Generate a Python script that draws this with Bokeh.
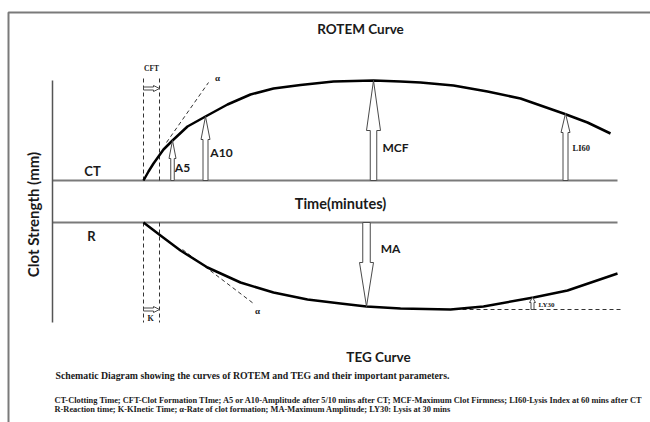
import math
from bokeh.plotting import figure
from bokeh.models import Range1d, Label
from bokeh.embed import file_html
from bokeh.resources import INLINE

# ---------------- data (read from the schematic) ----------------
# ROTEM curve: time (arbitrary units) vs amplitude above its baseline
rotem_time = [91, 96, 101, 106, 111, 120, 135, 153, 175, 198, 221, 248, 281, 321, 348, 368, 401, 435, 468, 511, 535, 558]
rotem_amp = [0, 9, 17, 24, 31, 40, 54, 64, 76, 86, 92, 95.5, 99, 100, 99, 98, 95, 89, 82, 67, 58, 47]
# TEG curve: time vs amplitude below its baseline
teg_time = [91, 108, 128, 155, 188, 221, 255, 288, 314, 348, 398, 431, 481, 515, 565]
teg_amp = [0, 13, 28, 45, 60, 70, 77, 81, 84, 86, 87, 84, 75, 68, 51]

rotem_param_names = ["A5", "A10", "MCF", "LI60"]
rotem_param_time = [120, 153, 321, 513]
rotem_param_amp = [40, 64, 100, 67]

ct_time = 91
cft_end = 107
r_time = 91
k_end = 107
ma_time = 314
ma_amp = 84
ly30_time = 480
ly30_ref = 87
ly30_amp = 75
time_end = 565

caption = "Schematic Diagram showing the curves of ROTEM and TEG and their important parameters."
foot1 = ("CT-Clotting Time; CFT-Clot Formation TIme; A5 or A10-Amplitude after 5/10 mins  after CT; "
         "MCF-Maximum Clot Firmness; LI60-Lysis Index at 60 mins after CT")
foot2 = ("R-Reaction time; K-KInetic Time; \u03b1-Rate of clot formation; "
         "MA-Maximum Amplitude; LY30: Lysis at 30 mins")

# ---------------- layout ----------------
GAP = 42            # distance between the two baselines
AXIS_TOP = 100
AXIS_BOTTOM = -142
SANS = "Lato"
SERIF = "Liberation Serif"


def teg_y(b):
    return -GAP - b


p = figure(width=650, height=422, output_backend="svg", toolbar_location=None,
           x_range=Range1d(-52, 598), y_range=Range1d(-242, 180),
           x_axis_location=None, y_axis_location=None, min_border=0)
p.grid.visible = False
p.outline_line_color = None
p.background_fill_color = "white"
p.border_fill_color = "white"

# outer frame (top and left edges)
p.line([-44, -44, 600], [-245, 168, 168], line_color="#7a7a7a", line_width=2)

# time axes (baselines) and vertical axis
p.segment(x0=[0, 0], y0=[0, -GAP], x1=[time_end, time_end], y1=[0, -GAP],
          line_color="#7a7a7a", line_width=2)
p.segment(x0=[0], y0=[AXIS_TOP], x1=[0], y1=[AXIS_BOTTOM], line_color="#555555", line_width=1.5)

# dashed guides: CFT and K
dash_kw = dict(line_color="#333333", line_width=1, line_dash="4 3")
p.segment(x0=[ct_time, cft_end], y0=[0, 0], x1=[ct_time, cft_end], y1=[105, 105], **dash_kw)
p.segment(x0=[r_time, k_end], y0=[-GAP, -GAP], x1=[r_time, k_end], y1=[AXIS_BOTTOM, AXIS_BOTTOM], **dash_kw)
# alpha tangents
p.segment(x0=[114], y0=[38], x1=[156], y1=[98], **dash_kw)
p.segment(x0=[130], y0=[-69], x1=[201], y1=[-123], **dash_kw)
# LY30 reference line
p.segment(x0=[410], y0=[teg_y(ly30_ref)], x1=[time_end + 6], y1=[teg_y(ly30_ref)], **dash_kw)

# curves
p.line(rotem_time, rotem_amp, line_color="black", line_width=2.5, line_join="round")
p.line(teg_time, [teg_y(b) for b in teg_amp], line_color="black", line_width=2.5, line_join="round")


# hollow arrows
def v_arrow(x, y0, y1, hl, hw, sw):
    d = 1 if y1 > y0 else -1
    yh = y1 - d * hl
    xs = [x - sw / 2, x - sw / 2, x - hw / 2, x, x + hw / 2, x + sw / 2, x + sw / 2]
    ys = [y0, yh, yh, y1, yh, yh, y0]
    return xs, ys


def h_arrow(y, x0, x1, hl, hw, sw):
    xh = x1 - hl
    xs = [x0, xh, xh, x1, xh, xh, x0]
    ys = [y - sw / 2, y - sw / 2, y - hw / 2, y, y + hw / 2, y + sw / 2, y + sw / 2]
    return xs, ys


arrow_style = {"A5": (18, 7, 3.5), "A10": (23, 9, 5), "MCF": (50, 14, 6.5), "LI60": (19, 9, 5)}
axs, ays = [], []
for name, t, a in zip(rotem_param_names, rotem_param_time, rotem_param_amp):
    hl, hw, sw = arrow_style[name]
    xs, ys = v_arrow(t, 0, a, hl, hw, sw)
    axs.append(xs)
    ays.append(ys)
xs, ys = v_arrow(ma_time, -GAP, teg_y(ma_amp), 44, 14, 7.5)
axs.append(xs); ays.append(ys)
xs, ys = v_arrow(ly30_time, teg_y(ly30_ref), teg_y(ly30_amp), 5, 6, 3)
axs.append(xs); ays.append(ys)
xs, ys = h_arrow(92, ct_time, cft_end, 6, 6, 3)
axs.append(xs); ays.append(ys)
xs, ys = h_arrow(teg_y(ly30_ref), r_time, k_end, 6, 6, 3)
axs.append(xs); ays.append(ys)
p.patches(axs, ays, fill_color="white", line_color="#4a4a4a", line_width=1)


# texts
def lab(x, y, text, size, font=SANS, align="center", style="bold", angle=0, color="#1a1a1a"):
    p.add_layout(Label(x=x, y=y, text=text, text_font=font, text_font_size=size,
                       text_font_style=style, text_align=align, text_baseline="middle",
                       angle=angle, text_color=color))


lab(308, 152, "ROTEM Curve", "13.5px")
lab(288, -23, "Time(minutes)", "14.5px")
lab(326, -176, "TEG Curve", "13.5px")
lab(-20, -34, "Clot Strength (mm)", "15px", angle=math.pi / 2)
lab(40, 10, "CT", "13px")
lab(39, -55, "R", "13px")
lab(130, 13, "A5", "12px")
lab(169, 28, "A10", "12px")
lab(343, 33, "MCF", "12px")
lab(338, -68, "MA", "12px")
lab(520, 33, "LI60", "8.5px", font=SERIF, align="left")
lab(486, -124, "LY30", "7px", font=SERIF, align="left")
lab(99, 112, "CFT", "7.5px", font=SERIF)
lab(98, -138, "K", "8px", font=SERIF)
lab(165, 103, "\u03b1", "9px", font=SERIF)
lab(205, -130, "\u03b1", "9px", font=SERIF)
lab(3, -195, caption, "9.8px", font=SERIF, align="left")
lab(2, -220, foot1, "8.4px", font=SERIF, align="left")
lab(2, -229, foot2, "8.4px", font=SERIF, align="left")

open("out.html", "w").write(file_html(p, INLINE))
